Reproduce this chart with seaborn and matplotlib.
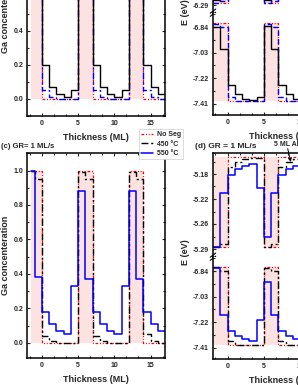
import matplotlib
matplotlib.use('Agg')
import matplotlib.pyplot as plt
import seaborn as sns
from matplotlib.ticker import AutoMinorLocator, FixedLocator, MultipleLocator

# layer start positions (ML); each value holds until the next layer starts
thickness = [-2, -1, 0, 1, 2, 3, 4, 5, 6, 7, 8, 9, 10, 11, 12, 13, 14, 15, 16]
conc_thickness = [-1.5, -1, 0, 1, 2, 3, 4, 5, 6, 7, 8, 9, 10, 11, 12, 13, 14, 15, 16]
thickness_end = 17

# (a) Ga concentration, upper panel
a_noseg = [1, 1, 0, 0, 0, 0, 0, 1, 1, 0, 0, 0, 0, 0, 1, 1, 0, 0, 0]
a_dashdot = [1.0, 0.97, 0.05, 0.01, 0.0, 0.0, 0.0, 1.0, 0.97, 0.05, 0.01, 0.0, 0.0, 0.0, 1.0, 0.97, 0.05, 0.01, 0.0]
a_solid = [0.96, 0.68, 0.20, 0.07, 0.03, 0.01, 0.05, 0.97, 0.68, 0.20, 0.07, 0.03, 0.01, 0.05, 0.97, 0.68, 0.20, 0.07, 0.03]

# (b) band energies, upper segment (conduction) and lower segment (valence)
b_up_noseg = [-6.29, -6.29, -6.155, -6.155, -6.155, -6.155, -6.155, -6.29, -6.29, -6.155, -6.155, -6.155, -6.155, -6.155, -6.29, -6.29, -6.155, -6.155, -6.155]
b_up_solid = [-6.285, -6.245, -6.182, -6.165, -6.160, -6.157, -6.162, -6.285, -6.245, -6.182, -6.165, -6.160, -6.157, -6.162, -6.285, -6.245, -6.182, -6.165, -6.160]
b_up_dash = [-6.29, -6.287, -6.162, -6.157, -6.155, -6.155, -6.155, -6.29, -6.287, -6.162, -6.157, -6.155, -6.155, -6.155, -6.29, -6.287, -6.162, -6.157, -6.155]
b_lo_noseg = [-6.81, -6.81, -7.39, -7.39, -7.39, -7.39, -7.39, -6.81, -6.81, -7.39, -7.39, -7.39, -7.39, -7.39, -6.81, -6.81, -7.39, -7.39, -7.39]
b_lo_solid = [-6.84, -7.0, -7.27, -7.34, -7.37, -7.38, -7.36, -6.83, -7.0, -7.27, -7.34, -7.37, -7.38, -7.36, -6.83, -7.0, -7.27, -7.34, -7.37]
b_lo_dash = [-6.82, -6.84, -7.36, -7.385, -7.39, -7.39, -7.39, -6.82, -6.84, -7.36, -7.385, -7.39, -7.39, -7.39, -6.82, -6.84, -7.36, -7.385, -7.39]

# (c) GR = 1 ML/s, Ga concentration
c_noseg = [1, 1, 0, 0, 0, 0, 0, 1, 1, 0, 0, 0, 0, 0, 1, 1, 0, 0, 0]
c_450 = [1.0, 0.95, 0.04, 0.01, 0.0, 0.0, 0.0, 0.99, 0.95, 0.04, 0.01, 0.0, 0.0, 0.0, 0.99, 0.95, 0.05, 0.01, 0.0]
c_550 = [1.0, 0.38, 0.18, 0.11, 0.07, 0.05, 0.33, 0.88, 0.37, 0.18, 0.11, 0.07, 0.05, 0.33, 0.88, 0.37, 0.18, 0.11, 0.07]

# (d) GR = 1 ML/s, band energies
d_up_noseg = [-5.29, -5.29, -5.155, -5.155, -5.155, -5.155, -5.155, -5.29, -5.29, -5.155, -5.155, -5.155, -5.155, -5.155, -5.29, -5.29, -5.155, -5.155, -5.155]
d_up_450 = [-5.29, -5.285, -5.17, -5.162, -5.158, -5.156, -5.156, -5.29, -5.285, -5.17, -5.162, -5.158, -5.156, -5.156, -5.29, -5.285, -5.17, -5.162, -5.158]
d_up_550 = [-5.29, -5.208, -5.181, -5.173, -5.168, -5.165, -5.201, -5.275, -5.208, -5.181, -5.173, -5.168, -5.165, -5.201, -5.275, -5.208, -5.181, -5.173, -5.168]
d_lo_noseg = [-6.81, -6.81, -7.39, -7.39, -7.39, -7.39, -7.39, -6.81, -6.81, -7.39, -7.39, -7.39, -7.39, -7.39, -6.81, -6.81, -7.39, -7.39, -7.39]
d_lo_450 = [-6.81, -6.84, -7.36, -7.385, -7.39, -7.39, -7.39, -6.82, -6.84, -7.36, -7.385, -7.39, -7.39, -7.39, -6.82, -6.84, -7.36, -7.385, -7.39]
d_lo_550 = [-6.82, -7.163, -7.287, -7.32, -7.345, -7.355, -7.20, -6.92, -7.163, -7.287, -7.32, -7.345, -7.355, -7.20, -6.92, -7.163, -7.287, -7.32, -7.345]

# tick positions / labels of the broken energy axes
up_ticks_d = [-5.18, -5.2175, -5.255, -5.2925]
up_labels_d = ['-5.18', '-5.22', '-5.26', '-5.29']
up_ticks_b = [-6.18, -6.2175, -6.255, -6.2925]
up_labels_b = ['-6.18', '-6.22', '-6.26', '-6.29']
lo_ticks = [-6.84, -7.03, -7.22, -7.41]
lo_labels = ['-6.84', '-7.03', '-7.22', '-7.41']

legend_labels = ['No Seg', '450 \u00b0C', '550 \u00b0C']

sns.set_theme(style='ticks')
plt.rcParams['font.family'] = ['Liberation Sans', 'DejaVu Sans']
plt.rcParams['font.weight'] = 'bold'
plt.rcParams['axes.labelweight'] = 'bold'
plt.rcParams['axes.linewidth'] = 1.1
plt.rcParams['xtick.direction'] = 'in'
plt.rcParams['ytick.direction'] = 'in'

PINK = '#fde2e2'
RED_LS = (0, (2.2, 1.4, 0.8, 1.4, 0.8, 1.4))
DASHDOT = (0, (5, 2, 1.5, 2))
DASH = (0, (4, 2))

W, H = 298, 385
fig = plt.figure(figsize=(W / 100, H / 100), dpi=100)


def rect(l, t, r, b):
    return [l / W, 1 - b / H, (r - l) / W, (b - t) / H]


def steps(ax, vals, xs=thickness, **kw):
    x = xs + [thickness_end]
    y = list(vals) + [vals[-1]]
    sns.lineplot(x=x, y=y, ax=ax, drawstyle='steps-post', estimator=None, sort=False, **kw)


def pink(ax, lower, upper, xs=thickness):
    x = xs + [thickness_end]
    lo = list(lower) + [lower[-1]] if isinstance(lower, list) else lower
    hi = list(upper) + [upper[-1]] if isinstance(upper, list) else upper
    ax.fill_between(x, lo, hi, step='post', color=PINK, lw=0, zorder=0)


def style_axes(ax, top=True, bottom=True):
    ax.set_xlim(-2, thickness_end)
    ax.xaxis.set_major_locator(MultipleLocator(5))
    ax.xaxis.set_minor_locator(AutoMinorLocator(3))
    ax.tick_params(which='both', top=top, bottom=bottom, right=True, left=True,
                   labelsize=5, pad=3, width=0.8)
    ax.tick_params(which='major', length=2.5)
    ax.tick_params(which='minor', length=1.4)
    for s in ax.spines.values():
        s.set_color('black')
    ax.set_ylabel('')
    ax.set_xlabel('')


def conc_panel(ax, noseg, curves, ylim):
    pink(ax, 0.0, noseg, conc_thickness)
    for vals, kw in curves:
        steps(ax, vals, conc_thickness, **kw)
    style_axes(ax)
    ax.set_ylim(*ylim)
    ax.yaxis.set_major_locator(MultipleLocator(0.2))
    ax.yaxis.set_minor_locator(AutoMinorLocator(2))
    ax.yaxis.set_major_formatter('{x:.1f}')
    ax.set_xlabel('Thickness (ML)', fontsize=6.5, labelpad=4)
    ax.set_ylabel('Ga concenteration', fontsize=6.5, labelpad=2)


def energy_panel(top, bottom, up, lo, up_ticks, up_labels, label_y):
    ax_u = fig.add_axes(rect(213, top, 351, top + 104))
    ax_l = fig.add_axes(rect(213, top + 104, 351, bottom))
    up_noseg, up_curves = up
    lo_noseg, lo_curves = lo
    pink(ax_u, up_noseg, up_noseg[2])
    pink(ax_l, lo_noseg[2], lo_noseg)
    for vals, kw in up_curves:
        steps(ax_u, vals, **kw)
    for vals, kw in lo_curves:
        steps(ax_l, vals, **kw)
    style_axes(ax_u, bottom=False)
    style_axes(ax_l, top=False)
    ax_u.spines['bottom'].set_visible(False)
    ax_l.spines['top'].set_visible(False)
    ax_u.tick_params(labelbottom=False)
    ax_u.set_ylim(up_ticks[-1] - 0.012, up_ticks[0] + 0.0315)
    ax_l.set_ylim(-7.492, -6.736)
    ax_u.yaxis.set_major_locator(FixedLocator(up_ticks))
    ax_u.set_yticklabels(up_labels)
    ax_u.yaxis.set_minor_locator(AutoMinorLocator(2))
    ax_l.yaxis.set_major_locator(FixedLocator(lo_ticks))
    ax_l.set_yticklabels(lo_labels)
    ax_l.yaxis.set_minor_locator(AutoMinorLocator(2))
    ax_l.set_xlabel('Thickness (ML)', fontsize=6.5, labelpad=4)
    # break marks on the spine
    for dy in (-0.012, 0.018):
        ax_u.plot([-0.02, 0.02], [dy - 0.02, dy + 0.02], transform=ax_u.transAxes,
                  color='black', lw=0.8, clip_on=False)
    fig.text(185 / W, 1 - label_y / H, 'E (eV)', rotation=90, ha='center', va='center',
             fontsize=6.5, fontweight='bold')
    return ax_u, ax_l


# (a)
ax_a = fig.add_axes(rect(27.3, -89, 165, 116))
conc_panel(ax_a, a_noseg, [
    (a_noseg, dict(color='red', lw=0.9, linestyle=RED_LS)),
    (a_dashdot, dict(color='blue', lw=1.0, linestyle=DASHDOT)),
    (a_solid, dict(color='black', lw=1.0)),
], (-0.1, 1.1))

# (c)
ax_c = fig.add_axes(rect(27.3, 153.3, 165, 358.3))
conc_panel(ax_c, c_noseg, [
    (c_noseg, dict(color='red', lw=0.9, linestyle=RED_LS, label=legend_labels[0])),
    (c_450, dict(color='black', lw=1.0, linestyle=DASHDOT, label=legend_labels[1])),
    (c_550, dict(color='blue', lw=1.1, label=legend_labels[2])),
], (-0.09, 1.1))
fig.text(1 / W, 1 - 146 / H, '(c) GR= 1 ML/s', ha='left', va='center', fontsize=5.5, fontweight='bold')
handles, labels = ax_c.get_legend_handles_labels()
leg = ax_c.legend(handles, labels, loc='upper right', bbox_to_anchor=(183 / W, 1 - 129 / H),
                  bbox_transform=fig.transFigure, fontsize=5, frameon=True, fancybox=False,
                  edgecolor='#cccccc', framealpha=1, handlelength=1.8, handletextpad=0.5,
                  labelspacing=0.35, borderpad=0.3, borderaxespad=0)
leg.get_frame().set_linewidth(0.5)

# (b)
energy_panel(-91, 115, (b_up_noseg, [
    (b_up_noseg, dict(color='red', lw=0.9, linestyle=RED_LS)),
    (b_up_dash, dict(color='blue', lw=1.0, linestyle=DASH)),
    (b_up_solid, dict(color='black', lw=1.0)),
]), (b_lo_noseg, [
    (b_lo_noseg, dict(color='red', lw=0.9, linestyle=RED_LS)),
    (b_lo_dash, dict(color='blue', lw=1.0, linestyle=DASH)),
    (b_lo_solid, dict(color='black', lw=1.0)),
]), up_ticks_b, up_labels_b, 12)

# (d)
ax_du, ax_dl = energy_panel(153, 359, (d_up_noseg, [
    (d_up_noseg, dict(color='red', lw=0.9, linestyle=RED_LS)),
    (d_up_450, dict(color='black', lw=1.0, linestyle=DASHDOT)),
    (d_up_550, dict(color='blue', lw=1.1)),
]), (d_lo_noseg, [
    (d_lo_noseg, dict(color='red', lw=0.9, linestyle=RED_LS)),
    (d_lo_450, dict(color='black', lw=1.0, linestyle=DASHDOT)),
    (d_lo_550, dict(color='blue', lw=1.1)),
]), up_ticks_d, up_labels_d, 252)
fig.text(195 / W, 1 - 146 / H, '(d) GR = 1 ML/s', ha='left', va='center', fontsize=6, fontweight='bold')
ax_du.annotate('', xy=(8.8, -5.166), xytext=(8.2, -5.138), annotation_clip=False,
               arrowprops=dict(arrowstyle='-|>', color='black', lw=0.7, mutation_scale=5))
ax_du.text(6.4, -5.136, '5 ML AlN', fontsize=5, fontweight='bold', ha='left', va='center', clip_on=False)

fig.savefig('out.png', dpi=100)
